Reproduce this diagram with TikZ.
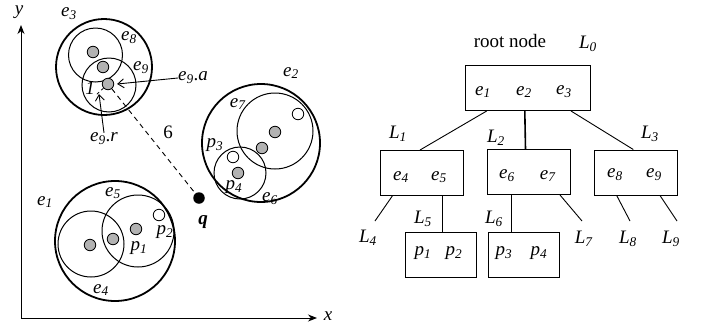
\documentclass[tikz,border=0pt]{standalone}
\usepackage{fontspec}
\setmainfont{Liberation Serif}
\usetikzlibrary{arrows.meta,calc}
\newcommand\elab[2]{\textit{#1}\textsubscript{\textit{#2}}}
\begin{document}
\begin{tikzpicture}[x=1pt,y=-1pt,
  lbl/.style={inner sep=0pt, font=\fontsize{19}{22}\selectfont},
  bigring/.style={draw, circle, line width=1.8pt, inner sep=0pt, minimum size=#1},
  smallring/.style={draw, circle, line width=1pt, inner sep=0pt, minimum size=#1},
  fdot/.style={draw, circle, fill=black!30, line width=0.8pt, inner sep=0pt, minimum size=11.5pt},
  odot/.style={draw, circle, fill=white, line width=0.8pt, inner sep=0pt, minimum size=11.5pt},
  tbox/.style={draw, line width=1pt, minimum height=45pt, inner sep=0pt, minimum width=#1},
  tline/.style={line width=0.9pt},
  arr/.style={line width=0.9pt, -{Straight Barb[length=6pt,width=9pt]}},
  axis/.style={line width=1pt, -{Stealth[length=9pt,width=7pt]}},
]
\useasboundingbox (0,0) rectangle (702,330);
% axes
\coordinate (O) at (21,318);
\coordinate (Y) at (21,25);
\coordinate (X) at (317,318);
\draw[axis] (O) -- (Y);
\draw[axis] (O) -- (X);
\node[lbl] (ylab) at (19,12) {\textit{y}};
\node[lbl] (xlab) at (328,316) {\textit{x}};

% e3 group
\node[bigring=96pt] (e3c) at (104,67) {};
\node[smallring=54pt] (e8c) at (95.5,55) {};
\node[smallring=54pt] (e9c) at (109,85) {};
\node[fdot] (d1) at (93,52) {};
\node[fdot] (d2) at (103,67) {};
\node[fdot] (d3) at (108,84) {};
\node[lbl] (le3) at (69,14) {\elab{e}{3}};
\node[lbl] (le8) at (129,38) {\elab{e}{8}};
\node[lbl] (le9) at (141,68) {\elab{e}{9}};
\node[lbl] (e9a) at (193,78) {\elab{e}{9}.\textit{a}};
\node[lbl] (e9r) at (104,139) {\elab{e}{9}.\textit{r}};
\node[lbl] (one) at (90,88) {\textit{1}};
\node[lbl] (six) at (168,132) {6};
\coordinate (rtip) at (99,94);
\coordinate (rend) at (96,95);
\draw[arr] (e9a.west) -- ([xshift=3pt]d3.east);
\draw[arr] (e9r.north) -- (rtip);
\draw[dashed, line width=0.8pt] (d3) -- (rend);

% e2 group
\node[bigring=118pt] (e2c) at (261,143) {};
\node[smallring=76pt] (e7c) at (275,131) {};
\node[smallring=52pt] (e6c) at (240,173) {};
\node[odot] (p2d) at (298,114) {};
\node[fdot] (d4) at (275,132) {};
\node[fdot] (d5) at (262,148) {};
\node[odot] (p3d) at (233,157) {};
\node[fdot] (p4d) at (238,173) {};
\node[lbl] (le2) at (291,73) {\elab{e}{2}};
\node[lbl] (le7) at (238,104) {\elab{e}{7}};
\node[lbl] (lp3) at (215,145) {\elab{p}{3}};
\node[lbl] (lp4) at (234,187) {\elab{p}{4}};
\node[lbl] (le6) at (270,199) {\elab{e}{6}};

% query point
\node[circle, fill=black, inner sep=0pt, minimum size=11.5pt] (q) at (199,198) {};
\node[lbl] (ql) at (203,222) {\textbf{\textit{q}}};
\draw[dashed, line width=0.9pt, dash pattern=on 5pt off 4pt] (d3) -- (q);

% e1 group
\node[bigring=120pt] (e1c) at (115,241) {};
\node[smallring=66pt] (e4c) at (91,244) {};
\node[smallring=72pt] (e5c) at (138,231) {};
\node[fdot] (d6) at (90,245) {};
\node[fdot] (d7) at (113,239) {};
\node[fdot] (p1d) at (136,229) {};
\node[odot] (p2dd) at (159,215) {};
\node[lbl] (le1) at (45,202) {\elab{e}{1}};
\node[lbl] (le5) at (113,193) {\elab{e}{5}};
\node[lbl] (lp1) at (139,248) {\elab{p}{1}};
\node[lbl] (lp2) at (165,232) {\elab{p}{2}};
\node[lbl] (le4) at (101,290) {\elab{e}{4}};

% tree
\node[lbl] (rootl) at (510,41) {root node};
\node[lbl] (L0) at (588,44) {\elab{L}{0}};
\node[tbox=125pt] (root) at (528.3,88) {};
\node[lbl] (r1) at (483,92) {\elab{e}{1}};
\node[lbl] (r2) at (524,92) {\elab{e}{2}};
\node[lbl] (r3) at (564,92) {\elab{e}{3}};

\node[tbox=83pt] (b1) at (422,173) {};
\node[tbox=83pt] (b2) at (529,172) {};
\node[tbox=83pt] (b3) at (636,172.5) {};
\node[lbl] (t4) at (401,177) {\elab{e}{4}};
\node[lbl] (t5) at (439,177) {\elab{e}{5}};
\node[lbl] (t6) at (507,176) {\elab{e}{6}};
\node[lbl] (t7) at (548,176) {\elab{e}{7}};
\node[lbl] (t8) at (615,175) {\elab{e}{8}};
\node[lbl] (t9) at (654,175) {\elab{e}{9}};

\node[tbox=71pt] (leaf1) at (441,254.5) {};
\node[tbox=71pt] (leaf2) at (524,255) {};
\node[lbl] (q1) at (423,253) {\elab{p}{1}};
\node[lbl] (q2) at (454,253) {\elab{p}{2}};
\node[lbl] (q3) at (504,253) {\elab{p}{3}};
\node[lbl] (q4) at (539,253) {\elab{p}{4}};

\node[lbl] (L1) at (398,134) {\elab{L}{1}};
\node[lbl] (L2) at (496,138) {\elab{L}{2}};
\node[lbl] (L3) at (650,134) {\elab{L}{3}};
\node[lbl] (L4) at (368,238) {\elab{L}{4}};
\node[lbl] (L5) at (423,219) {\elab{L}{5}};
\node[lbl] (L6) at (494,219) {\elab{L}{6}};
\node[lbl] (L7) at (584,239) {\elab{L}{7}};
\node[lbl] (L8) at (628,239) {\elab{L}{8}};
\node[lbl] (L9) at (671,239) {\elab{L}{9}};

\draw[tline] ([xshift=-41.6pt]root.south) -- ([xshift=-2pt]b1.north);
\draw[line width=1.6pt] ([xshift=-3.5pt]root.south) -- ([xshift=-3.5pt]b2.north);
\draw[tline] ([xshift=42.7pt]root.south) -- ([xshift=-2.7pt]b3.north);

\coordinate (c4) at (375,221);
\coordinate (c7) at (582,221);
\coordinate (c8) at (630,221);
\coordinate (c9) at (677,221);
\draw[tline] ([xshift=-29.7pt]b1.south) -- (c4);
\draw[tline] ([xshift=20.3pt]b1.south) -- ([xshift=1.3pt]leaf1.north);
\draw[tline] ([xshift=-17.3pt]b2.south) -- ([xshift=-12.3pt]leaf2.north);
\draw[tline] ([xshift=31pt]b2.south) -- (c7);
\draw[tline] ([xshift=-19.3pt]b3.south) -- (c8);
\draw[tline] ([xshift=24pt]b3.south) -- (c9);
\end{tikzpicture}
\end{document}
